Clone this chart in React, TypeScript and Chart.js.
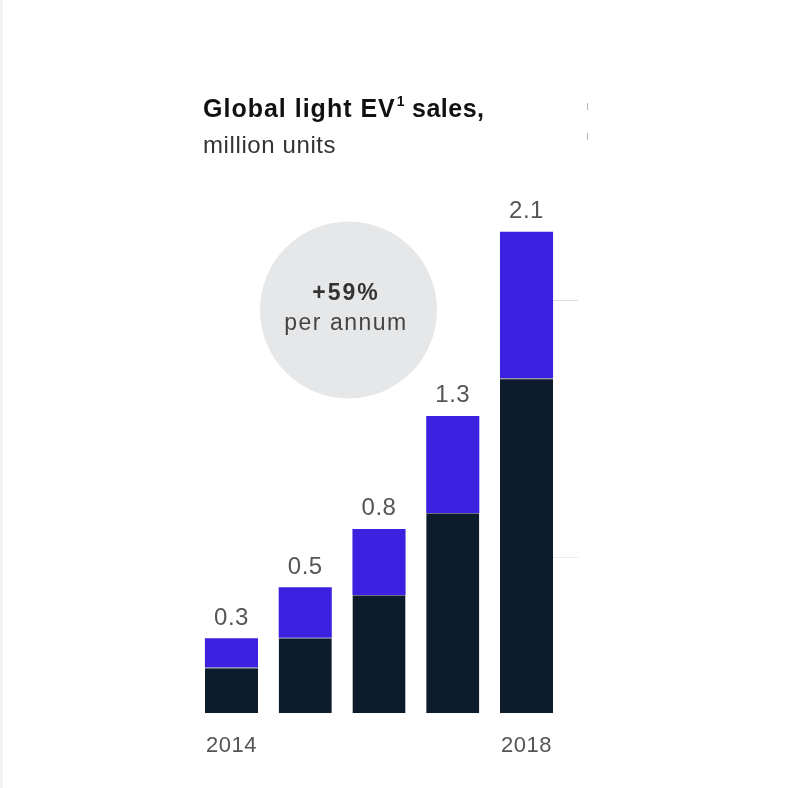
import React, { useEffect, useRef } from "react";
import { Chart, registerables } from "chart.js";

Chart.register(...registerables);

const categories = ["2014", "2015", "2016", "2017", "2018"];
const tickLabels = ["2014", "", "", "", "2018"];
const darkSeries = [0.2, 0.33, 0.516, 0.874, 1.461];
const blueSeries = [0.127, 0.22, 0.288, 0.423, 0.639];
const totalLabels = ["0.3", "0.5", "0.8", "1.3", "2.1"];
const titleBold = "Global light EV";
const titleSup = "1";
const titleRest = " sales,";
const subtitle = "million units";
const badgeTop = "+59%";
const badgeBottom = "per annum";

const FONT = "'Liberation Sans', Arial, sans-serif";

const decorPlugin = {
  id: "decor",
  beforeDatasetsDraw(chart: any) {
    const ctx = chart.ctx;
    ctx.save();
    // left strip
    ctx.fillStyle = "#f1f2f4";
    ctx.fillRect(0, 0, 3, chart.height);
    // faint right tick marks
    ctx.strokeStyle = "#dcdcdc";
    ctx.lineWidth = 1;
    ctx.beginPath();
    ctx.moveTo(553, 300.5);
    ctx.lineTo(578, 300.5);
    ctx.stroke();
    ctx.strokeStyle = "#ececec";
    ctx.beginPath();
    ctx.moveTo(553, 557.5);
    ctx.lineTo(578, 557.5);
    ctx.stroke();
    ctx.strokeStyle = "#b5b5b5";
    ctx.beginPath();
    ctx.moveTo(587.5, 103);
    ctx.lineTo(587.5, 110);
    ctx.moveTo(587.5, 133);
    ctx.lineTo(587.5, 140);
    ctx.stroke();
    // badge circle
    ctx.fillStyle = "#e6e7e9";
    ctx.beginPath();
    ctx.arc(348.5, 310, 88.5, 0, Math.PI * 2);
    ctx.fill();
    ctx.textAlign = "center";
    ctx.textBaseline = "alphabetic";
    ctx.fillStyle = "#333";
    ctx.font = `bold 23px ${FONT}`;
    (ctx as any).letterSpacing = "2px";
    ctx.fillText(badgeTop, 346, 300);
    ctx.fillStyle = "#444";
    ctx.font = `23px ${FONT}`;
    (ctx as any).letterSpacing = "1.5px";
    ctx.fillText(badgeBottom, 346, 330);
    // title
    ctx.textAlign = "left";
    ctx.fillStyle = "#111";
    ctx.font = `bold 25px ${FONT}`;
    (ctx as any).letterSpacing = "1px";
    ctx.fillText(titleBold, 203, 117);
    let x = 203 + ctx.measureText(titleBold).width;
    ctx.font = `bold 14px ${FONT}`;
    (ctx as any).letterSpacing = "0px";
    ctx.fillText(titleSup, x + 1, 106);
    x += ctx.measureText(titleSup).width + 1;
    ctx.font = `bold 25px ${FONT}`;
    (ctx as any).letterSpacing = "0.5px";
    ctx.fillText(titleRest, x, 117);
    ctx.fillStyle = "#333";
    ctx.font = `24px ${FONT}`;
    (ctx as any).letterSpacing = "0.6px";
    ctx.fillText(subtitle, 203, 153);
    ctx.restore();
  },
  afterDatasetsDraw(chart: any) {
    const ctx = chart.ctx;
    const xs = chart.scales.x;
    const ys = chart.scales.y;
    ctx.save();
    ctx.textAlign = "center";
    ctx.textBaseline = "alphabetic";
    (ctx as any).letterSpacing = "0.5px";
    categories.forEach((_, i) => {
      const cx = xs.getPixelForValue(i);
      const total = darkSeries[i] + blueSeries[i];
      const top = ys.getPixelForValue(total);
      ctx.fillStyle = "#555";
      ctx.font = `24px ${FONT}`;
      ctx.fillText(totalLabels[i], cx, top - 13.5);
      if (tickLabels[i]) {
        ctx.fillStyle = "#555";
        ctx.font = `22px ${FONT}`;
        ctx.fillText(tickLabels[i], cx, ys.getPixelForValue(0) + 39);
      }
    });
    ctx.restore();
  },
};

export default function App() {
  const ref = useRef<HTMLCanvasElement | null>(null);
  useEffect(() => {
    if (!ref.current) return;
    const chart = new Chart(ref.current, {
      type: "bar",
      data: {
        labels: categories,
        datasets: [
          {
            label: "dark",
            data: darkSeries,
            backgroundColor: "#0c1c2c",
            borderColor: "#6b7382",
            borderWidth: { top: 1, left: 0, right: 0, bottom: 0 },
            borderSkipped: false,
            barPercentage: 0.72,
            categoryPercentage: 1,
          },
          {
            label: "blue",
            data: blueSeries,
            backgroundColor: "#3c22e0",
            borderWidth: 0,
            barPercentage: 0.72,
            categoryPercentage: 1,
          },
        ],
      },
      options: {
        responsive: false,
        animation: false,
        devicePixelRatio: 1,
        layout: { padding: { left: 194.6, right: 228.6, top: 163, bottom: 74.7 } },
        plugins: {
          legend: { display: false },
          tooltip: { enabled: false },
          title: { display: false },
        },
        scales: {
          x: { stacked: true, display: false, offset: true, grid: { display: false } },
          y: { stacked: true, display: false, min: 0, max: 2.4 },
        },
      },
      plugins: [decorPlugin],
    });
    return () => chart.destroy();
  }, []);
  return (
    <div style={{ position: "absolute", left: 0, top: 0, width: 792, height: 788, background: "#fff" }}>
      <canvas ref={ref} width={792} height={788} style={{ width: 792, height: 788, display: "block" }} />
    </div>
  );
}
